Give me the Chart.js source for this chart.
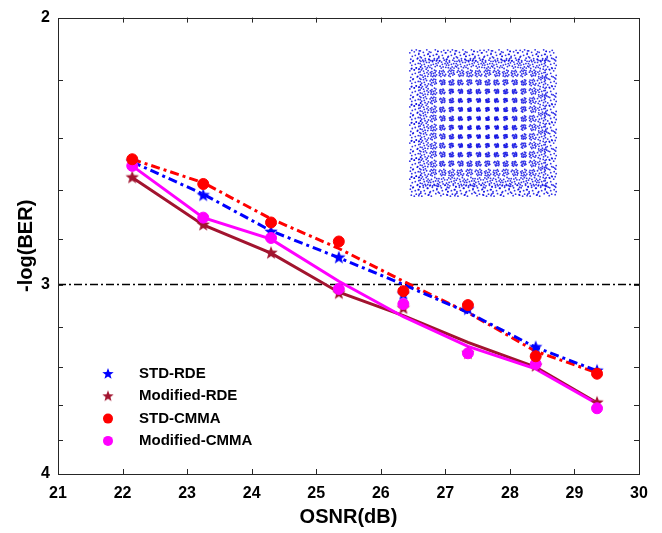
<!DOCTYPE html>
<html>
<head>
<meta charset="utf-8">
<script src="https://cdn.jsdelivr.net/npm/chart.js@4.4.0/dist/chart.umd.min.js"></script>
<style>
  html, body { margin: 0; padding: 0; background: #fff; }
  #wrap { position: relative; width: 662px; height: 533px; }
  #main { position: absolute; left: 0; top: 0; }
  #inset { position: absolute; left: 400px; top: 40px; }
</style>
</head>
<body>
<div id="wrap">
  <canvas id="main" width="662" height="533"></canvas>
  <canvas id="inset" width="166" height="166"></canvas>
</div>
<script>
// datos
const osnr = [22.15, 23.25, 24.3, 25.35, 26.35, 27.35, 28.4, 29.35];
const seriesNames = ['STD-RDE', 'Modified-RDE', 'STD-CMMA', 'Modified-CMMA'];

// puntos medidos
const stdRdeMarks   = [2.49, 2.62, 2.77, 2.88, 3.045, 3.115, 3.30, 3.42];
const modRdeMarks   = [2.55, 2.74, 2.86, 3.04, 3.11, 3.33, 3.395, 3.59];
const stdCmmaMarks  = [2.48, 2.575, 2.73, 2.81, 3.03, 3.095, 3.345, 3.435];
const modCmmaMarks  = [2.505, 2.71, 2.795, 3.02, 3.09, 3.33, 3.385, 3.62];

// curvas de ajuste
const stdRdeFit  = [2.49, 2.615, 2.765, 2.88, 3.0, 3.13, 3.30, 3.42];
const modRdeFit  = [2.55, 2.74, 2.86, 3.035, 3.145, 3.275, 3.40, 3.59];
const stdCmmaFit = [2.48, 2.57, 2.715, 2.84, 2.985, 3.13, 3.32, 3.43];
const modCmmaFit = [2.505, 2.71, 2.80, 2.985, 3.15, 3.295, 3.41, 3.595];

const xRange = [21, 30];
const thresholdLevel = 3;
const yTickVals = [2, 2.2, 2.4, 2.6, 2.8, 3, 3.2, 3.4, 3.6, 3.8, 4];
const yLabelled = [2, 3, 4];

// constelacion 256-QAM del recuadro
const qamLevels = [-15, -13, -11, -9, -7, -5, -3, -1, 1, 3, 5, 7, 9, 11, 13, 15];
const clusterOffsets = [[0, 0], [0.3, 0.1], [-0.25, 0.3], [0.1, -0.35], [-0.35, -0.1], [0.45, 0.4],
  [-0.5, 0.15], [0.2, 0.55], [-0.1, -0.55], [0.55, -0.25], [-0.4, -0.45], [0.35, -0.5]];

const BLUE = '#0000ff', DARKRED = '#a2142f', RED = '#ff0000', MAGENTA = '#ff00ff';
const FONT = 'Arial, "Liberation Sans", sans-serif';

function makeStar(color, R) {
  const c = document.createElement('canvas');
  const s = Math.ceil(R * 2 + 2);
  c.width = s; c.height = s;
  const g = c.getContext('2d');
  const r = R * 0.42;
  g.beginPath();
  for (let i = 0; i < 10; i++) {
    const a = -Math.PI / 2 + i * Math.PI / 5;
    const rad = i % 2 === 0 ? R : r;
    g.lineTo(s / 2 + rad * Math.cos(a), s / 2 + rad * Math.sin(a));
  }
  g.closePath();
  g.fillStyle = color;
  g.fill();
  return c;
}

const blueStar = makeStar(BLUE, 7);
const darkStar = makeStar(DARKRED, 7);

function pts(arr) {
  return osnr.map((x, i) => ({ x: x, y: arr[i] }));
}

function marks(label, arr, color, style) {
  return {
    label: label, data: pts(arr), showLine: false,
    pointStyle: style, pointRadius: 5.5, pointBackgroundColor: color, pointBorderColor: color,
    borderColor: color, backgroundColor: color
  };
}

function fit(arr, color, dash) {
  return {
    label: '', data: pts(arr), showLine: true, pointRadius: 0, borderColor: color,
    borderWidth: 3, borderDash: dash, tension: 0, fill: false
  };
}

const legendItems = [
  { name: seriesNames[0], img: makeStar(BLUE, 6) },
  { name: seriesNames[1], img: makeStar(DARKRED, 6) },
  { name: seriesNames[2], color: RED },
  { name: seriesNames[3], color: MAGENTA }
];

const frame = {
  id: 'frame',
  afterDraw(chart) {
    const { ctx, chartArea: a, scales } = chart;
    ctx.save();
    ctx.strokeStyle = '#262626';
    ctx.lineWidth = 1;
    ctx.beginPath();
    // marcas hacia dentro
    scales.x.ticks.forEach(t => {
      if (t.value <= xRange[0] || t.value >= xRange[1]) return;
      const px = Math.round(scales.x.getPixelForValue(t.value)) + 0.5;
      ctx.moveTo(px, a.bottom); ctx.lineTo(px, a.bottom - 5);
      ctx.moveTo(px, a.top); ctx.lineTo(px, a.top + 5);
    });
    scales.y.ticks.forEach(t => {
      if (t.value <= 2 || t.value >= 4) return;
      const py = Math.round(scales.y.getPixelForValue(t.value)) + 0.5;
      ctx.moveTo(a.left, py); ctx.lineTo(a.left + 5, py);
      ctx.moveTo(a.right, py); ctx.lineTo(a.right - 5, py);
    });
    ctx.stroke();
    ctx.strokeRect(Math.round(a.left) + 0.5, Math.round(a.top) + 0.5,
      Math.round(a.right - a.left), Math.round(a.bottom - a.top));

    // leyenda
    ctx.font = 'bold 15px ' + FONT;
    ctx.textBaseline = 'middle';
    ctx.fillStyle = '#000';
    legendItems.forEach((it, i) => {
      const y = 374 + i * 22.3;
      if (it.img) {
        ctx.drawImage(it.img, 108 - it.img.width / 2, y - it.img.height / 2);
      } else {
        ctx.beginPath();
        ctx.fillStyle = it.color;
        ctx.arc(108, y, 5, 0, Math.PI * 2);
        ctx.fill();
      }
      ctx.fillStyle = '#000';
      ctx.fillText(it.name, 139, y);
    });
    ctx.restore();
  }
};

new Chart(document.getElementById('main'), {
  type: 'scatter',
  data: {
    datasets: [
      marks(seriesNames[2], stdCmmaMarks, RED, 'circle'),
      marks(seriesNames[3], modCmmaMarks, MAGENTA, 'circle'),
      marks(seriesNames[0], stdRdeMarks, BLUE, blueStar),
      marks(seriesNames[1], modRdeMarks, DARKRED, darkStar),
      fit(modCmmaFit, MAGENTA, []),
      fit(modRdeFit, DARKRED, []),
      fit(stdRdeFit, BLUE, [9, 4, 3, 4]),
      fit(stdCmmaFit, RED, [9, 4, 3, 4]),
      {
        label: '', showLine: true, pointRadius: 0, borderColor: '#000', borderWidth: 1.5,
        borderDash: [8, 3, 2, 3],
        data: xRange.map(x => ({ x: x, y: thresholdLevel }))
      }
    ]
  },
  options: {
    responsive: false,
    animation: false,
    layout: { padding: { top: 14, right: 23, left: 0, bottom: 0 } },
    plugins: { legend: { display: false }, tooltip: { enabled: false } },
    scales: {
      x: {
        type: 'linear', min: xRange[0], max: xRange[1],
        ticks: { stepSize: 1, color: '#000', padding: 10, maxRotation: 0, autoSkip: false,
          font: { family: FONT, size: 16, weight: 'bold' } },
        grid: { display: false, drawTicks: false },
        border: { display: false },
        title: { display: true, text: 'OSNR(dB)', color: '#000',
          font: { family: FONT, size: 20, weight: 'bold' }, padding: { top: 0, bottom: 4 } },
        afterFit(s) { s.height = 59; }
      },
      y: {
        type: 'logarithmic', min: 2, max: 4, reverse: true,
        afterBuildTicks(s) { s.ticks = yTickVals.map(v => ({ value: v })); },
        ticks: {
          autoSkip: false, color: '#000', padding: 8,
          font: { family: FONT, size: 16, weight: 'bold' },
          callback: v => yLabelled.includes(v) ? String(v) : ''
        },
        grid: { display: false, drawTicks: false },
        border: { display: false },
        title: { display: true, text: '-log(BER)', color: '#000',
          font: { family: FONT, size: 20, weight: 'bold' }, padding: { top: 14, bottom: 0 } },
        afterFit(s) { s.width = 58; }
      }
    }
  },
  plugins: [frame]
});

// recuadro de la constelacion
const cloud = [];
qamLevels.forEach((i, a) => {
  qamLevels.forEach((q, b) => {
    const r = Math.max(Math.abs(i), Math.abs(q)) / 15;
    const s = 0.7 + 1.5 * r * r * r;
    const k = (a + 2 * b) % 4;
    clusterOffsets.forEach(o => {
      let dx = o[0], dy = o[1];
      if (k === 1) { dx = o[1]; dy = -o[0]; }
      if (k === 2) { dx = -o[0]; dy = -o[1]; }
      if (k === 3) { dx = -o[1]; dy = o[0]; }
      cloud.push({ x: i + dx * s, y: q + dy * s });
    });
  });
});

new Chart(document.getElementById('inset'), {
  type: 'scatter',
  data: {
    datasets: [{
      data: cloud, pointRadius: 0.9, pointBorderWidth: 0,
      pointBackgroundColor: 'rgba(0,0,225,0.8)'
    }]
  },
  options: {
    responsive: false,
    animation: false,
    layout: { padding: 0 },
    plugins: { legend: { display: false }, tooltip: { enabled: false } },
    scales: {
      x: { display: false, min: -17.5, max: 17.5 },
      y: { display: false, min: -17.5, max: 17.5 }
    }
  }
});
</script>
</body>
</html>
